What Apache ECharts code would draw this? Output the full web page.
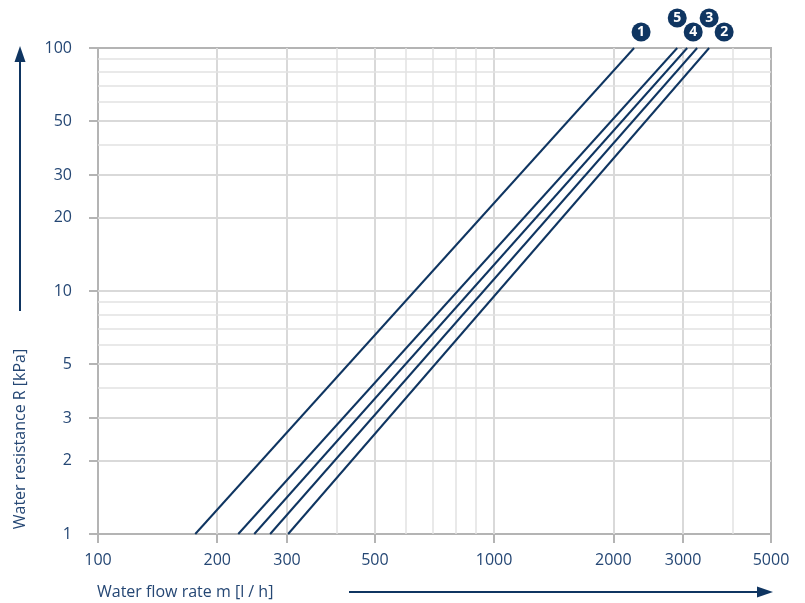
<!DOCTYPE html>
<html>
<head>
<meta charset="utf-8">
<script src="https://cdn.jsdelivr.net/npm/echarts@6/dist/echarts.min.js"></script>
<style>
  html, body { margin: 0; padding: 0; background: #ffffff; }
  #chart { width: 805px; height: 603px; }
</style>
</head>
<body>
<div id="chart"></div>
<script>
// Axis ticks (labelled) and the extra unlabelled grid values
const flowTicks = [100, 200, 300, 500, 1000, 2000, 3000, 5000];
const flowMinor = [400, 600, 700, 800, 900, 4000];
const resistTicks = [1, 2, 3, 5, 10, 20, 30, 50, 100];
const resistMinor = [4, 6, 7, 8, 9, 40, 60, 70, 80, 90];

// Valve characteristic curves: [flow l/h, resistance kPa]
const curveNames = ['1', '5', '4', '3', '2'];
const curve1 = [[176, 1], [2256, 100]];
const curve5 = [[226, 1], [2899, 100]];
const curve4 = [[248, 1], [3072, 100]];
const curve3 = [[272, 1], [3255, 100]];
const curve2 = [[302, 1], [3490, 100]];
const curves = [curve1, curve5, curve4, curve3, curve2];

// badge placement relative to the upper end of each curve (px)
const badgeOffsets = [[7, -16], [0, -30], [6, -16], [12, -30], [15, -16]];

const NAVY = '#0f3561';
const TEXT = '#254774';
const FRAME = '#b4b4b4';
const FONT = '"Open Sans", "Noto Sans", sans-serif';

const chart = echarts.init(document.getElementById('chart'), null, { renderer: 'canvas' });

const gridLines = [];
flowTicks.slice(1, -1).forEach(v => gridLines.push({ xAxis: v, lineStyle: { color: '#d9d9d9', width: 2, type: 'solid' } }));
flowMinor.forEach(v => gridLines.push({ xAxis: v, lineStyle: { color: '#e2e2e2', width: 1.5, type: 'solid' } }));
resistTicks.slice(1, -1).forEach(v => gridLines.push({ yAxis: v, lineStyle: { color: '#d9d9d9', width: 2, type: 'solid' } }));
resistMinor.forEach(v => gridLines.push({ yAxis: v, lineStyle: { color: '#e2e2e2', width: 1.5, type: 'solid' } }));

const series = [{
  type: 'line',
  name: 'grid',
  data: [],
  silent: true,
  z: 1,
  markLine: {
    silent: true,
    z: 1,
    symbol: 'none',
    animation: false,
    label: { show: false },
    data: gridLines
  }
}];

curves.forEach((pts, i) => {
  series.push({
    type: 'line',
    name: curveNames[i],
    data: pts,
    showSymbol: false,
    symbol: 'none',
    z: 4,
    lineStyle: { color: NAVY, width: 2 },
    markPoint: {
      z: 6,
      symbol: 'circle',
      symbolSize: 19,
      symbolOffset: badgeOffsets[i],
      itemStyle: { color: NAVY },
      animation: false,
      label: {
        show: true,
        position: 'inside',
        formatter: curveNames[i],
        color: '#ffffff',
        fontFamily: FONT,
        fontWeight: 'bold',
        fontSize: 14
      },
      data: [{ coord: pts[pts.length - 1] }]
    }
  });
});

const axisCommon = {
  type: 'log',
  logBase: 10,
  axisLine: { show: true, lineStyle: { color: FRAME, width: 2 } },
  splitLine: { show: false },
  minorTick: { show: false },
  minorSplitLine: { show: false }
};

const plain = v => String(Math.round(v));

chart.setOption({
  animation: false,
  backgroundColor: '#ffffff',
  grid: {
    left: 98, right: 34, top: 48, bottom: 69,
    show: true, borderColor: FRAME, borderWidth: 2, backgroundColor: 'transparent'
  },
  xAxis: Object.assign({}, axisCommon, {
    min: 100, max: 5000,
    axisTick: { show: true, length: 9, customValues: flowTicks, lineStyle: { color: FRAME, width: 2 } },
    axisLabel: { customValues: flowTicks, formatter: plain, margin: 18, color: TEXT, fontFamily: FONT, fontSize: 16 }
  }),
  yAxis: Object.assign({}, axisCommon, {
    min: 1, max: 100,
    axisTick: { show: true, length: 9, customValues: resistTicks, lineStyle: { color: FRAME, width: 2 } },
    axisLabel: { customValues: resistTicks, formatter: plain, margin: 26, color: TEXT, fontFamily: FONT, fontSize: 16 }
  }),
  graphic: [
    { type: 'text', x: 20, y: 439, rotation: Math.PI / 2,
      style: { text: 'Water resistance R [kPa]', fill: TEXT, font: '16px ' + FONT, align: 'center', verticalAlign: 'middle' } },
    { type: 'line', shape: { x1: 20, y1: 311, x2: 20, y2: 58 }, style: { stroke: NAVY, lineWidth: 2 } },
    { type: 'polygon', shape: { points: [[20, 46], [14.5, 62], [25.5, 62]] }, style: { fill: NAVY } },
    { type: 'text', x: 97, y: 592,
      style: { text: 'Water flow rate m [l / h]', fill: TEXT, font: '16px ' + FONT, align: 'left', verticalAlign: 'middle' } },
    { type: 'line', shape: { x1: 349, y1: 592, x2: 760, y2: 592 }, style: { stroke: NAVY, lineWidth: 2 } },
    { type: 'polygon', shape: { points: [[773, 592], [757, 586.5], [757, 597.5]] }, style: { fill: NAVY } }
  ],
  series: series
});
</script>
</body>
</html>
